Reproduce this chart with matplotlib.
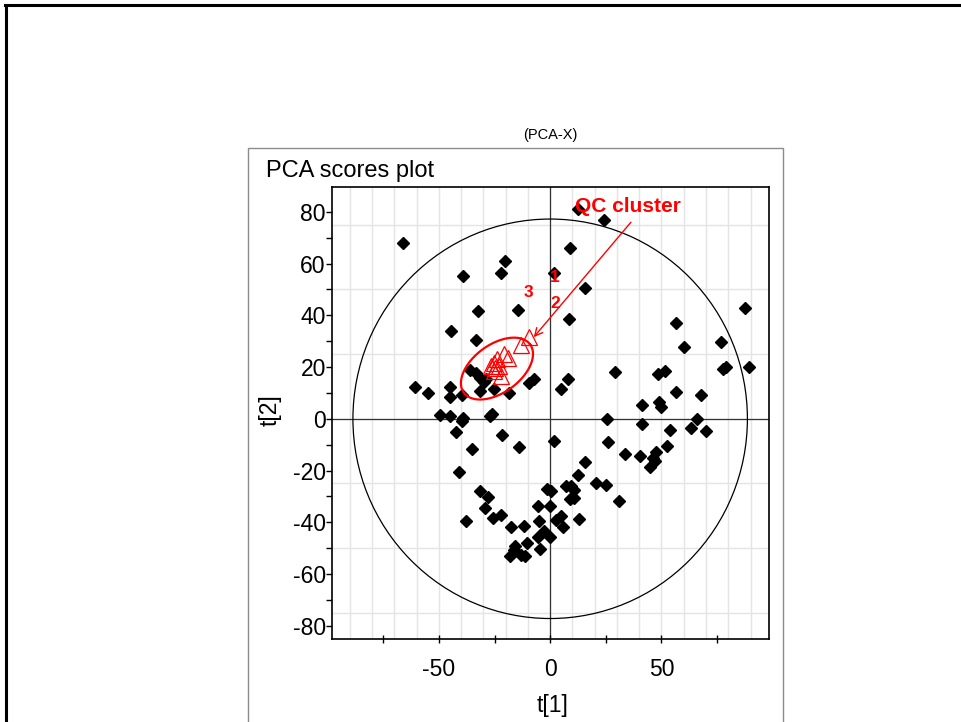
import numpy as np
import matplotlib
matplotlib.use("Agg")
import matplotlib.pyplot as plt
from matplotlib.patches import Ellipse, Rectangle
from matplotlib.lines import Line2D

plt.rcParams['font.family'] = ['Liberation Sans', 'DejaVu Sans']

# sample scores (black diamonds)
t1 = [-66.1, -39.2, -20.1, -21.9, -32.5, -14.5, -44.5, -33.1, -60.5, -55.1,
      -45.2, -44.9, -39.8, -36.1, -33.2, -31.3, -29.8, -31.6, -28.6, -25.3,
      -18.5, -9.6, -7.3, 12.3, 24.2, 9.0, 1.8, 15.6, 8.4, 87.4,
      56.7, 60.2, 76.9, 77.7, 79.2, 89.4, 29.0, 48.5, 51.8, 8.1,
      4.8, 56.7, 67.9, 41.4, 49.0, 50.0, 25.7, 41.3, 53.7, 66.1,
      63.2, 70.2, 1.7, 26.0, 33.8, 40.3, 52.6, 47.5, 46.4, 47.0,
      45.0, 15.6, 12.3, 20.8, 25.0, 31.0, 0.3, 7.3, 9.3, 10.8,
      9.1, 10.8, -0.1, 4.8, 2.8, 5.8, 12.9, -0.1, -49.5, -45.2,
      -39.2, -39.8, -26.3, -27.1, -42.5, -35.3, -21.6, -14.1, -41.0, -31.3,
      -28.0, -29.1, -25.6, -22.3, -38.0, -17.5, -11.8, -5.1, -5.4, -1.3,
      -5.4, -2.8, -10.6, -15.9, -16.3, -18.1, -13.3, -11.1, -4.4]
t2 = [68.0, 55.2, 61.0, 56.2, 41.6, 42.1, 33.8, 30.4, 12.4, 9.8,
      12.1, 8.5, 9.0, 18.7, 17.8, 15.8, 14.2, 10.7, 15.2, 11.4,
      9.8, 13.9, 15.2, 81.2, 76.8, 66.1, 56.2, 50.4, 38.4, 42.7,
      37.1, 27.6, 29.6, 19.1, 20.0, 20.0, 18.0, 17.2, 18.4, 15.5,
      11.4, 10.4, 9.3, 5.3, 6.6, 4.6, -0.1, -1.9, -4.5, -0.1,
      -3.6, -4.9, -8.7, -9.1, -13.5, -14.5, -10.7, -13.0, -15.2, -16.5,
      -18.7, -16.7, -21.6, -24.9, -25.5, -31.7, -28.1, -26.1, -26.1, -27.4,
      -31.0, -30.6, -33.6, -37.7, -39.3, -42.0, -38.8, -45.5, 1.5, 0.9,
      0.3, -0.8, 1.9, 0.9, -5.3, -11.6, -6.4, -11.1, -20.6, -27.8,
      -30.3, -34.5, -38.4, -37.1, -39.4, -42.0, -41.6, -39.7, -33.9, -27.2,
      -45.5, -43.5, -48.0, -49.3, -50.6, -52.9, -52.6, -52.9, -50.4]

# QC samples (red open triangles)
qc_t1 = [-9.4, -13.2, -18.9, -20.8, -23.8, -25.3, -26.4, -24.6, -23.0, -22.3, -25.3]
qc_t2 = [31.7, 28.5, 23.6, 24.9, 23.0, 21.6, 20.4, 19.7, 20.4, 16.5, 18.4]

qc_labels = ['1', '2', '3']
qc_label_x = [2.1, 2.1, -9.9]
qc_label_y = [54.5, 44.6, 49.0]

# Hotelling T2 ellipse semi-axes
t2_a, t2_b = 88.6, 77.2

fig = plt.figure(figsize=(9.61, 7.22), dpi=100)

# outer frame (top and left edges only visible)
fig.add_artist(Line2D([0.006, 0.006], [-0.01, 0.993], transform=fig.transFigure,
                      color='black', lw=2.2))
fig.add_artist(Line2D([0.005, 1.01], [0.993, 0.993], transform=fig.transFigure,
                      color='black', lw=2.2))
# grey panel
fig.add_artist(Rectangle((248 / 961, -0.02), (783 - 248) / 961, 0.02 + 1 - 148 / 722,
                         transform=fig.transFigure, fill=False, edgecolor='#8c8c8c', lw=1))

fig.text(550 / 961, 1 - 135 / 722, '(PCA-X)', ha='center', va='center', fontsize=10.5)
fig.text(266 / 961, 1 - 177 / 722, 'PCA scores plot', ha='left', va='baseline', fontsize=17)

ax = fig.add_axes([332 / 961, 1 - 638.7 / 722, 437 / 961, 452 / 722])
ax.set_xlim(-98, 98.3)
ax.set_ylim(-85, 89.7)

for gx in np.arange(-90, 100, 10):
    ax.axvline(gx, color='#e4e4e4', lw=1, zorder=0)
for gy in np.arange(-75, 90, 25):
    ax.axhline(gy, color='#e4e4e4', lw=1, zorder=0)
ax.axhline(0, color='#333333', lw=0.9, zorder=1)
ax.axvline(0, color='#333333', lw=0.9, zorder=1)

ax.add_patch(Ellipse((0, 0), 2 * t2_a, 2 * t2_b, fill=False, edgecolor='black', lw=0.9, zorder=2))

ax.plot(t1, t2, 'D', color='black', ms=6, zorder=3)
ax.plot(qc_t1, qc_t2, '^', mfc='none', mec='red', ms=12, mew=0.9, zorder=4)

# red ellipse around QC cluster (drawn in pixel units, then converted)
sx = 437 / (98.3 + 98)
sy = 452 / (89.7 + 85)
ang = np.deg2rad(36)
tt = np.linspace(0, 2 * np.pi, 200)
ea, eb = 41, 24
ex = -23.9 + (ea * np.cos(tt) * np.cos(ang) - eb * np.sin(tt) * np.sin(ang)) / sx
ey = 19.4 + (ea * np.cos(tt) * np.sin(ang) + eb * np.sin(tt) * np.cos(ang)) / sy
ax.plot(ex, ey, color='red', lw=1.6, zorder=5)

ax.annotate('', xy=(-8.2, 30.7), xytext=(37.1, 76.8),
            arrowprops=dict(arrowstyle='->', color='red', lw=1, mutation_scale=14), zorder=6)
ax.text(11.2, 80, 'QC cluster', color='red', fontsize=15, fontweight='bold',
        ha='left', va='baseline', zorder=6)
for lab, lx, ly in zip(qc_labels, qc_label_x, qc_label_y):
    ax.text(lx, ly, lab, color='red', fontsize=12.5, fontweight='bold',
            ha='center', va='center', zorder=6)

ax.set_xticks(np.arange(-75, 100, 25))
ax.set_xticklabels(['' if v % 50 else str(v) for v in np.arange(-75, 100, 25)])
ax.set_yticks(np.arange(-80, 90, 10))
ax.set_yticklabels(['' if v % 20 else str(v) for v in np.arange(-80, 90, 10)])
ax.tick_params(axis='x', direction='inout', length=6, width=1, pad=11, labelsize=16.5)
ax.tick_params(axis='y', direction='out', length=4, width=1, pad=0.5, labelsize=16.5)

ax.set_xlabel('t[1]', fontsize=16.5)
ax.set_ylabel('t[2]', fontsize=16.5)
ax.xaxis.set_label_coords(0.5 + 2 / 437, -0.122)
ax.yaxis.set_label_coords(-0.115, 0.5 + 3 / 452)

for sp in ax.spines.values():
    sp.set_color('black')
    sp.set_linewidth(1.2)

fig.savefig('out.png', dpi=100)
